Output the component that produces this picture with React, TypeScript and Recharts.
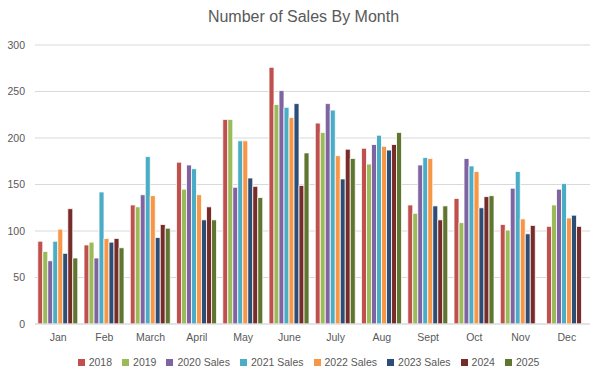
import React from 'react';
import { BarChart, Bar, XAxis, YAxis, CartesianGrid, Legend } from 'recharts';

const months = ['Jan', 'Feb', 'March', 'April', 'May', 'June', 'July', 'Aug', 'Sept', 'Oct', 'Nov', 'Dec'];
const s2018 = [89, 85, 128, 174, 220, 276, 216, 189, 128, 135, 107, 105];
const s2019 = [78, 88, 126, 145, 220, 236, 206, 172, 119, 109, 101, 128];
const s2020 = [68, 71, 139, 171, 147, 251, 237, 193, 171, 178, 146, 145];
const s2021 = [89, 142, 180, 167, 197, 233, 230, 203, 179, 170, 164, 151];
const s2022 = [102, 92, 138, 139, 197, 222, 181, 191, 178, 164, 113, 114];
const s2023 = [76, 88, 93, 112, 157, 237, 156, 187, 127, 125, 97, 117];
const s2024 = [124, 92, 107, 126, 148, 149, 188, 193, 112, 137, 106, 105];
const s2025: (number | null)[] = [71, 82, 103, 112, 136, 184, 178, 206, 127, 138, null, null];
const yTicks = [0, 50, 100, 150, 200, 250, 300];

const series = [
  { key: 'y2018', name: '2018', values: s2018, color: '#C0504D' },
  { key: 'y2019', name: '2019', values: s2019, color: '#9BBB59' },
  { key: 'y2020', name: '2020 Sales', values: s2020, color: '#8064A2' },
  { key: 'y2021', name: '2021 Sales', values: s2021, color: '#4BACC6' },
  { key: 'y2022', name: '2022 Sales', values: s2022, color: '#F79646' },
  { key: 'y2023', name: '2023 Sales', values: s2023, color: '#2C4D75' },
  { key: 'y2024', name: '2024', values: s2024, color: '#772C2A' },
  { key: 'y2025', name: '2025', values: s2025, color: '#5F7530' },
];

const data = months.map((m, i) => {
  const row: Record<string, any> = { month: m };
  series.forEach((s) => {
    row[s.key] = s.values[i];
  });
  return row;
});

const FONT = '"Liberation Sans", Arial, sans-serif';
const TEXT = '#595959';

export default function App() {
  return (
    <div style={{ position: 'absolute', left: 0, top: 0, width: 607, height: 379, background: '#fff' }}>
      <div
        style={{
          position: 'absolute',
          top: 8,
          left: 0,
          width: 607,
          textAlign: 'center',
          fontFamily: FONT,
          fontSize: 16,
          color: TEXT,
        }}
      >
        Number of Sales By Month
      </div>
      <BarChart
        width={607}
        height={379}
        data={data}
        margin={{ top: 45, right: 17, bottom: 10, left: 0 }}
        barCategoryGap="6%"
        barGap={0}
      >
        <CartesianGrid vertical={false} stroke="#D9D9D9" strokeWidth={1} />
        <XAxis
          dataKey="month"
          tickLine={false}
          axisLine={{ stroke: '#D9D9D9', strokeWidth: 1 }}
          tick={{ fill: TEXT, fontSize: 10.5, fontFamily: FONT }}
          tickMargin={4}
          height={30}
          interval={0}
        />
        <YAxis
          domain={[0, 300]}
          ticks={yTicks}
          width={35}
          tickLine={false}
          axisLine={false}
          tickSize={0}
          tickMargin={10}
          tick={{ fill: TEXT, fontSize: 10.5, fontFamily: FONT }}
          interval={0}
        />
        <Legend
          verticalAlign="bottom"
          align="center"
          iconType="square"
          iconSize={7}
          formatter={(v) => <span style={{ color: TEXT, fontSize: 10.5, fontFamily: FONT }}>{v}</span>}
          wrapperStyle={{ lineHeight: '14px', left: 10, width: 607 }}
        />
        {series.map((s) => (
          <Bar
            key={s.key}
            dataKey={s.key}
            name={s.name}
            fill={s.color}
            stroke="#ffffff"
            strokeWidth={0.8}
            isAnimationActive={false}
          />
        ))}
      </BarChart>
    </div>
  );
}
